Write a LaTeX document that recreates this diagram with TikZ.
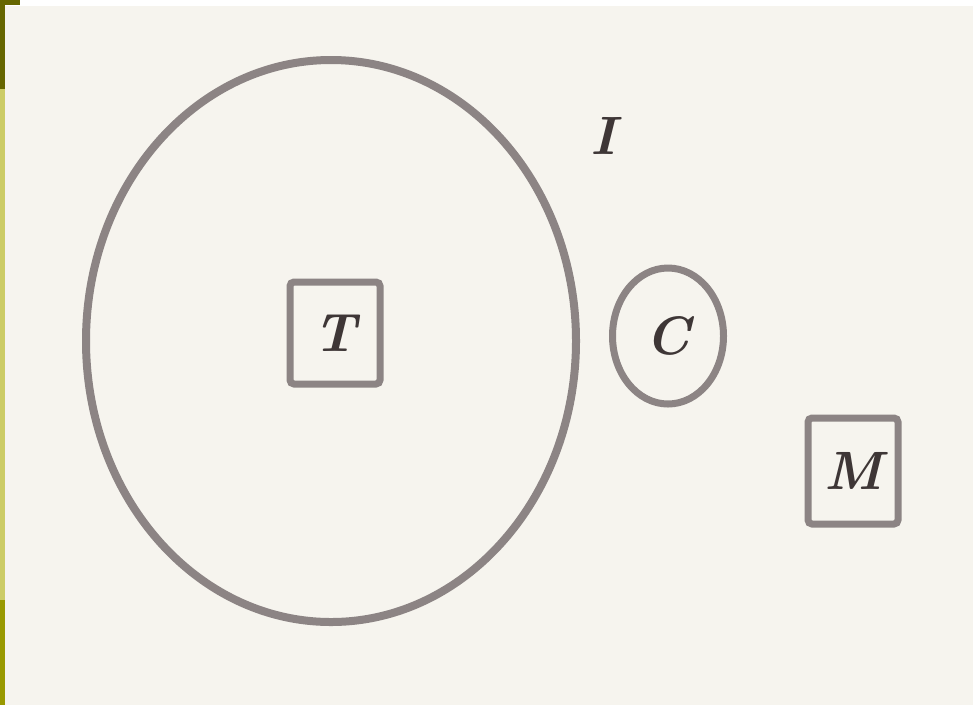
\documentclass[tikz,border=0pt]{standalone}
\usetikzlibrary{shapes.geometric}
\definecolor{paper}{HTML}{F6F4EE}
\definecolor{ink}{HTML}{8C8484}
\definecolor{txt}{HTML}{3E3636}
\definecolor{oliveD}{HTML}{666600}
\definecolor{oliveL}{HTML}{CCCC66}
\definecolor{oliveM}{HTML}{999900}
\tikzset{
  lbl/.style={font=\fontsize{54}{60}\selectfont\bfseries\itshape, text=txt, inner sep=0pt},
  boxnode/.style={draw=ink, line width=7pt, rounded corners=4pt, minimum width=90pt, minimum height=102pt, inner sep=0pt},
  ringnode/.style={draw=ink, ellipse, line width=7pt, inner sep=0pt},
}
\begin{document}
\begin{tikzpicture}[x=1pt,y=-1pt]
\useasboundingbox (0,0) rectangle (973,705);
\fill[paper] (0,0) rectangle (973,705);
\fill[white] (0,0) rectangle (973,6);
% left bar
\fill[oliveD] (0,0) rectangle (20,5);
\fill[oliveD] (0,0) rectangle (5,89);
\fill[oliveL] (0,89) rectangle (5,600);
\fill[oliveM] (0,600) rectangle (5,705);
% big ellipse
\node[ringnode, line width=8pt, minimum width=490pt, minimum height=562pt] (big) at (331,341) {};
% T box
\node[boxnode] (tbox) at (335,333) {};
\node[lbl] (T) at (tbox.center) {T};
% I label
\node[lbl] (I) at (603,136) {I};
% C circle
\node[ringnode, minimum width=111pt, minimum height=136pt] (cring) at (668,336) {};
\node[lbl] (C) at (cring.center) {C};
% M box
\node[boxnode, minimum height=106pt] (mbox) at (853,471) {};
\node[lbl] (M) at (mbox.center) {M};
\end{tikzpicture}
\end{document}
